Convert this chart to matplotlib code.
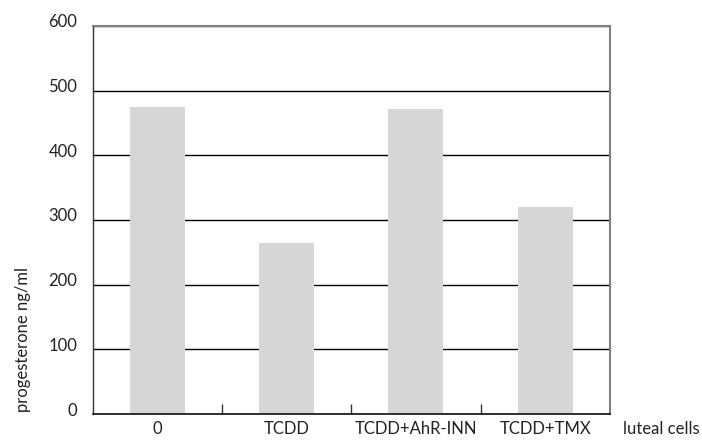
import matplotlib
matplotlib.use("Agg")
import matplotlib.pyplot as plt
import matplotlib.transforms as mtrans

categories = ["0", "TCDD", "TCDD+AhR-INN", "TCDD+TMX"]
values = [475, 264, 472, 320]
yticks = [0, 100, 200, 300, 400, 500, 600]

plt.rcParams['font.family'] = ['Lato', 'DejaVu Sans']
FS = 12

fig = plt.figure(figsize=(7.02, 4.43), dpi=100)
ax = fig.add_axes([92.5/702, 29/443, (610-92.5)/702, (414-26)/443])

x = list(range(len(categories)))
ax.bar(x, values, width=0.425, color="#d6d6d6", zorder=2)
ax.set_xlim(-0.5, len(categories) - 0.5)
ax.set_ylim(0, 600)
ax.set_yticks(yticks)
ax.set_yticklabels([str(v) for v in yticks], fontsize=FS, color="#222222")
ax.yaxis.grid(True, color="black", linewidth=1.0, zorder=1)
ax.set_axisbelow(True)
ax.tick_params(axis='y', length=0, pad=11)
off = mtrans.ScaledTranslation(0, 5/100, fig.dpi_scale_trans)
for lab in ax.get_yticklabels():
    lab.set_transform(lab.get_transform() + off)

ax.set_xticks(x)
ax.set_xticklabels(categories, fontsize=FS, color="#222222")
ax.tick_params(axis='x', which='major', length=0, pad=5)
ax.set_xticks([0.5, 1.5, 2.5], minor=True)
ax.tick_params(axis='x', which='minor', direction='in', length=7, width=1, color="#333333")

for side in ["top", "right"]:
    ax.spines[side].set_color("#808080")
    ax.spines[side].set_linewidth(1.5)
ax.spines["left"].set_color("#333333")
ax.spines["bottom"].set_color("#111111")
ax.spines["left"].set_linewidth(1.0)
ax.spines["bottom"].set_linewidth(1.2)

fig.text(23.5/702, 1 - 340/443, "progesterone ng/ml", rotation=90, ha="center", va="center",
         fontsize=FS, color="#222222")
fig.text(661/702, 1 - 429/443, "luteal cells", ha="center", va="center", fontsize=FS, color="#222222")

fig.savefig("out.png", dpi=100)
